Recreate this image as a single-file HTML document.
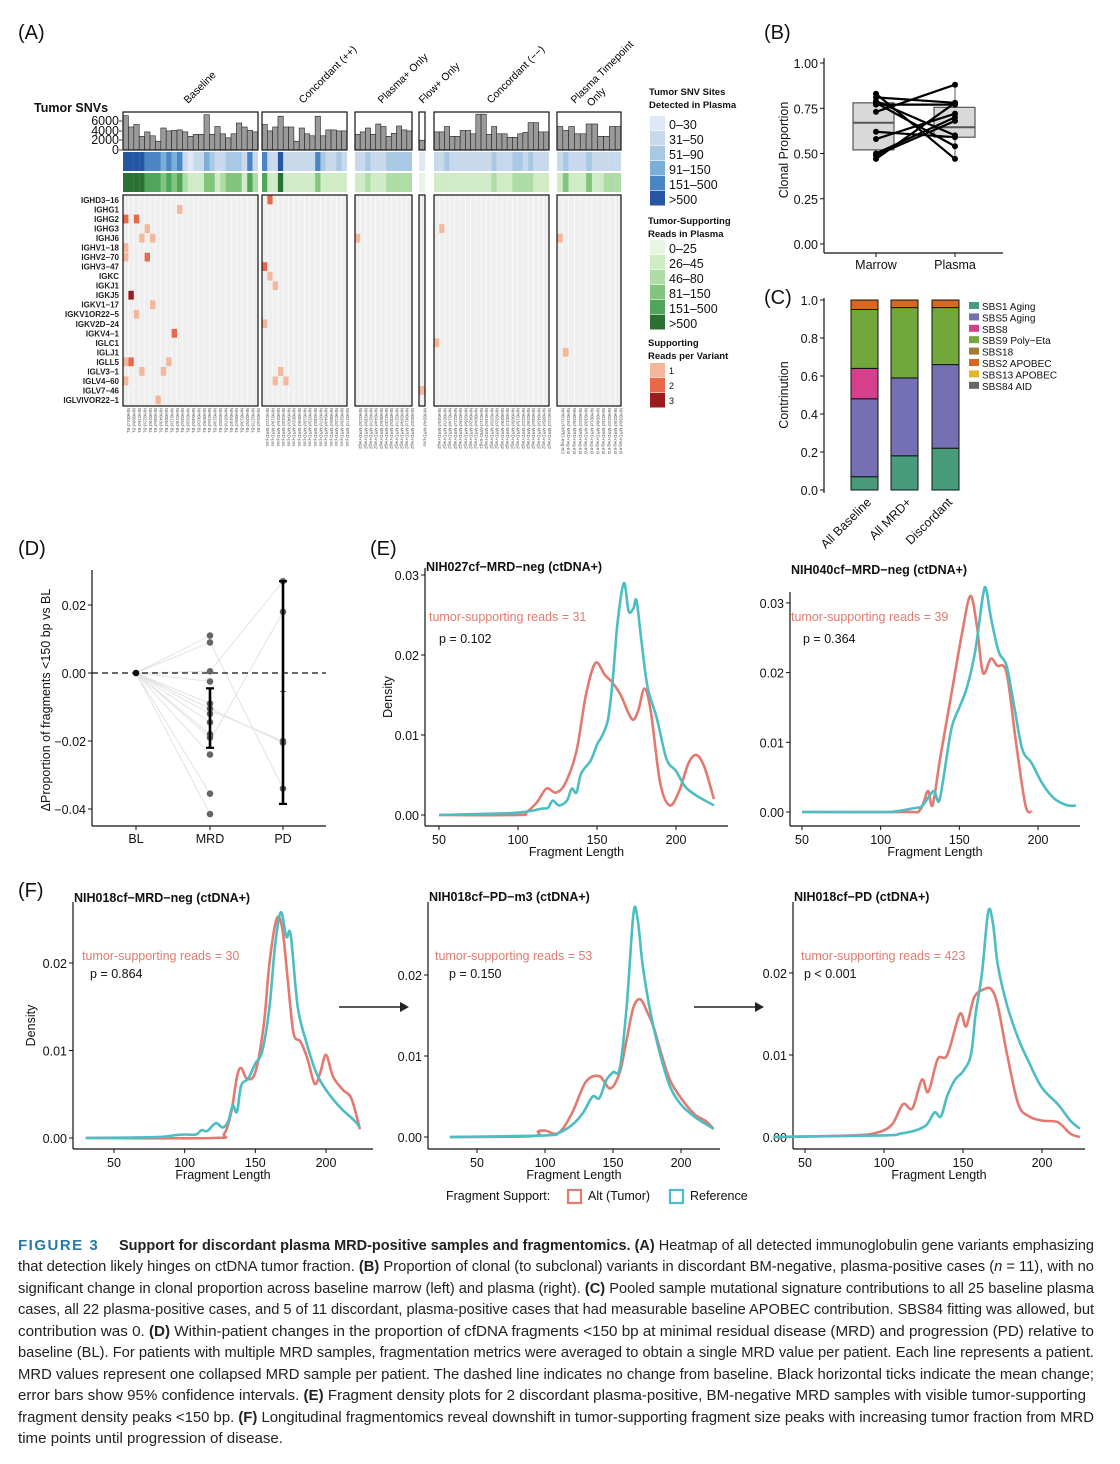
<!DOCTYPE html>
<html><head><meta charset="utf-8">
<style>
html,body{margin:0;padding:0;background:#fff;}
svg{display:block;font-family:"Liberation Sans",Arial,sans-serif;}
</style></head>
<body>
<svg id="s" width="1120" height="1464" viewBox="0 0 1120 1464" xmlns="http://www.w3.org/2000/svg"></svg>
<script>
var S='';
function T(x,y,t,o){o=o||{};var a='<text x="'+x+'" y="'+y+'" font-size="'+(o.fs||13)+'" fill="'+(o.c||'#111')+'"'+(o.a?' text-anchor="'+o.a+'"':'')+(o.w?' font-weight="bold"':'')+(o.tr?' transform="'+o.tr+'"':'')+(o.ex||'')+'>'+t+'</text>';S+=a;}
function R(x,y,w,h,f,st,sw){S+='<rect x="'+x+'" y="'+y+'" width="'+w+'" height="'+h+'" fill="'+f+'"'+(st?' stroke="'+st+'" stroke-width="'+(sw||1)+'"':'')+'/>';}
function L(x1,y1,x2,y2,c,w,ex){S+='<line x1="'+x1+'" y1="'+y1+'" x2="'+x2+'" y2="'+y2+'" stroke="'+(c||'#111')+'" stroke-width="'+(w||1)+'"'+(ex||'')+'/>';}
function C(x,y,r,f){S+='<circle cx="'+x+'" cy="'+y+'" r="'+r+'" fill="'+f+'"/>';}

T(18,39,'(A)',{fs:20});T(764,39,'(B)',{fs:20});T(764,304,'(C)',{fs:20});
T(18,555,'(D)',{fs:20});T(370,555,'(E)',{fs:20});T(18,897,'(F)',{fs:20});

var blocks=[[123,258,25],[262,347,16],[355,412,11],[419,425,1],[434,549,22],[557,621,11]];
var bars=[[7,4.7,5.2,2.8,3.7,2.9,1.8,4.5,3.9,4,4.1,3.7,2.8,3.2,3.2,7.2,3.2,4.8,3.3,2.5,3.3,5.5,4.7,4,3.7],
[5.2,3.9,4.7,6.9,4.7,4.7,1.8,4.5,3.3,2.9,6.9,2.9,4.1,4.1,3.9,3.9],
[3.2,3.7,4.5,3.2,5.3,4.8,2.8,3.4,4.9,4.1,3.9],[2],
[3.7,3.7,4.8,2.8,2.8,4,4,3.3,7.3,7.3,3.2,4.8,3.3,3.3,2.6,2.6,3.3,3.6,5.6,5.6,3.7,3.7],
[4.8,4,4.8,3.3,3.3,5.3,5.3,2.8,2.8,4.8,4.8]];
var blu=[[5,5,5,5,4,4,4,3,4,3,4,1,0,1,1,3,2,1,1,2,2,2,1,4,1],[4,1,1,5,1,1,1,1,1,1,4,2,1,1,2,1],[1,1,2,1,1,1,2,2,2,2,2],[0],
[1,1,2,1,1,1,1,1,1,1,1,2,1,1,1,2,2,1,2,1,1,1],[1,2,1,1,1,2,1,1,1,1,1]];
var grn=[[5,5,5,5,4,4,4,3,4,3,4,2,1,1,1,3,3,1,2,3,3,3,1,4,2],[4,1,1,5,1,1,1,1,1,1,3,1,1,1,1,1],[1,1,2,1,1,1,2,2,2,2,2],[0],
[1,1,1,1,1,1,1,1,1,1,1,2,1,1,1,2,2,2,2,1,1,1],[1,3,1,1,1,3,1,1,2,2,2]];
var BP=['#dfe9f5','#c8d9ec','#a9c8e3','#7bafd8','#4a86c3','#2456a2'];
var GP=['#e8f5e2','#cfecc7','#aedca5','#82c57c','#4ea55b','#2a7136'];
var RP=['#f5b79b','#e8694a','#9b1c1c'];
var sfx=['BL','MRD-pos','MRD-neg2','MRD-pos','MRD-neg2','MRD-neg-m3'];
blocks.forEach(function(b,bi){
  var x0=b[0],x1=b[1],n=b[2],w=(x1-x0)/n;
  for(var i=0;i<n;i++){
    var x=x0+i*w,h=bars[bi][i]*4.9;
    R(x.toFixed(2),(150-h).toFixed(1),w.toFixed(2),h.toFixed(1),'#9a9a9a','#222',0.6);
    R(x.toFixed(2),152,(w+0.1).toFixed(2),19,BP[blu[bi][i]]);
    R(x.toFixed(2),173,(w+0.1).toFixed(2),19,GP[grn[bi][i]]);
    var num=('00'+(1+((i*7+bi*11)%45))).slice(-3);
    T((x+w/2+1.5).toFixed(1),408,'NIH'+num+'cf-'+sfx[bi],{fs:4.4,c:'#555',tr:'rotate(90 '+(x+w/2+1.5).toFixed(1)+' 408)'});
  }
  R(x0,112,x1-x0,38,'none','#111',1.2);
  R(x0,195,x1-x0,211,'#efefef');
  for(var i=1;i<n;i++){var x=x0+i*w;L(x.toFixed(2),195,x.toFixed(2),406,'#fff',0.6);}
});
var rows=['IGHD3−16','IGHG1','IGHG2','IGHG3','IGHJ6','IGHV1−18','IGHV2−70','IGHV3−47','IGKC','IGKJ1','IGKJ5','IGKV1−17','IGKV1OR22−5','IGKV2D−24','IGKV4−1','IGLC1','IGLJ1','IGLL5','IGLV3−1','IGLV4−60','IGLV7−46','IGLVIVOR22−1'];
var cells=[[0,270,1],[1,178,0],[2,125,1],[2,136,1],[3,146,0],[3,443,0],[4,141,0],[4,152,0],[4,359,0],[4,562,0],[5,125,0],[6,125,0],[6,146,1],
[7,265,1],[8,270,0],[9,276,0],[10,130,2],[11,152,0],[12,136,0],[13,265,0],[14,173,1],[15,437,0],[16,568,0],[17,125,0],[17,130,1],[17,167,0],
[18,141,0],[18,162,0],[18,282,0],[19,125,0],[19,276,0],[19,287,0],[20,424,0],[21,157,0]];
var rh=9.52;
rows.forEach(function(r,i){T(119,200+i*rh+3,r,{fs:8,w:1,a:'end',c:'#222'});});
cells.forEach(function(c){
  var b=blocks.filter(function(b){return c[1]>=b[0]-1&&c[1]<=b[1]+1;})[0];
  var w=(b[1]-b[0])/b[2];var k=Math.max(0,Math.min(b[2]-1,Math.floor((c[1]-b[0])/w)));
  R((b[0]+k*w).toFixed(2),(200+c[0]*rh-4.4).toFixed(1),w.toFixed(2),8.8,RP[c[2]]);
});
blocks.forEach(function(b){R(b[0],195,b[1]-b[0],211,'none','#111',1.2);});
T(34,112,'Tumor SNVs',{fs:12.5,w:1});
[['6000',121],['4000',131],['2000',140],['0',150]].forEach(function(t){T(119,t[1]+4,t[0],{fs:12.5,a:'end'});L(119,t[1],122,t[1],'#111',0.8);});
[['Baseline',188],['Concordant (++)',303],['Plasma+ Only',382],['Flow+ Only',423],['Concordant (−−)',491],['Plasma Timepoint',575]].forEach(function(g){
  T(g[1],104,g[0],{fs:10.5,c:'#000',tr:'rotate(-45 '+g[1]+' 104)'});});
T(591,107,'Only',{fs:10.5,c:'#000',tr:'rotate(-45 591 107)'});
T(649,95,'Tumor SNV Sites',{fs:9.5,w:1});T(649,108,'Detected in Plasma',{fs:9.5,w:1});
var bl=['0–30','31–50','51–90','91–150','151–500','&gt;500'];
bl.forEach(function(t,i){R(650,116+i*15,15,14.5,BP[i]);T(669,129+i*15,t,{fs:12.5});});
T(648,224,'Tumor-Supporting',{fs:9.5,w:1});T(648,237,'Reads in Plasma',{fs:9.5,w:1});
var gl=['0–25','26–45','46–80','81–150','151–500','&gt;500'];
gl.forEach(function(t,i){R(650,240+i*15,15,14.5,GP[i]);T(669,253+i*15,t,{fs:12.5});});
T(648,346,'Supporting',{fs:9.5,w:1});T(648,359,'Reads per Variant',{fs:9.5,w:1});
['1','2','3'].forEach(function(t,i){R(650,363+i*15,15,14.5,RP[i]);T(669,374+i*15,t,{fs:9});});

function yb(v){return 244-v*181;}
L(824,58,824,253,'#111',1.2);L(824,253,1003,253,'#111',1.2);
[1,0.75,0.5,0.25,0].forEach(function(v){var y=yb(v);L(820,y,824,y);T(818,y+5,v.toFixed(2),{fs:12.5,a:'end'});});
T(788,150,'Clonal Proportion',{fs:12.5,a:'middle',tr:'rotate(-90 788 150)'});
L(876,253,876,257);L(955,253,955,257);
T(876,269,'Marrow',{fs:12.5,a:'middle'});T(955,269,'Plasma',{fs:12.5,a:'middle'});
L(876,yb(0.78),876,yb(0.52),'#555',1);L(955,yb(0.88),955,yb(0.47),'#555',1);
R(853,yb(0.78),41,yb(0.52)-yb(0.78),'#d9d9d9','#555',1.2);L(853,yb(0.67),894,yb(0.67),'#555',2);
R(934,yb(0.755),41,yb(0.59)-yb(0.755),'#d9d9d9','#555',1.2);L(934,yb(0.645),975,yb(0.645),'#555',2);
var pr=[[0.83,0.47],[0.81,0.78],[0.78,0.54],[0.77,0.77],[0.79,0.6],[0.73,0.88],[0.62,0.59],[0.58,0.72],[0.50,0.70],[0.49,0.68],[0.47,0.78]];
pr.forEach(function(p){L(876,yb(p[0]),955,yb(p[1]),'#000',2.2);C(876,yb(p[0]),3,'#000');C(955,yb(p[1]),3,'#000');});

function yc(v){return 490-v*190;}
L(824,298,824,493,'#111',1.2);
[1,0.8,0.6,0.4,0.2,0].forEach(function(v){var y=yc(v);L(820,y,824,y);T(818,y+5,v.toFixed(1),{fs:12.5,a:'end'});});
T(788,395,'Contrinution',{fs:12.5,a:'middle',tr:'rotate(-90 788 395)'});
var SC=['#489c7c','#7570b3','#d63f8a','#72a83b','#a07d30','#d8671f','#e3b52c','#666666'];
var stk=[[851,[[0,0.07,0],[0.07,0.48,1],[0.48,0.64,2],[0.64,0.95,3],[0.95,1,5]]],[891,[[0,0.18,0],[0.18,0.59,1],[0.59,0.96,3],[0.96,1,5]]],[932,[[0,0.22,0],[0.22,0.66,1],[0.66,0.96,3],[0.96,1,5]]]];
stk.forEach(function(s){s[1].forEach(function(g){R(s[0],yc(g[1]),27,yc(g[0])-yc(g[1]),SC[g[2]],'#111',1);});});
[['All Baseline',872],['All MRD+',912],['Discordant',953]].forEach(function(l){T(l[1],503,l[0],{fs:12.5,a:'end',tr:'rotate(-45 '+l[1]+' 503)'});});
var sl=['SBS1 Aging','SBS5 Aging','SBS8','SBS9 Poly−Eta','SBS18','SBS2 APOBEC','SBS13 APOBEC','SBS84 AID'];
sl.forEach(function(t,i){var y=306+i*11.4;R(969,y-4,10,7,SC[i]);T(982,y+4,t,{fs:10});});

function yd(v){return 673-v*3400;}
L(92,570,92,826,'#111',1.2);L(92,826,326,826,'#111',1.2);
[[0.02,'0.02'],[0,'0.00'],[-0.02,'−0.02'],[-0.04,'−0.04']].forEach(function(t){var y=yd(t[0]);L(88,y,92,y);T(86,y+5,t[1],{fs:12.5,a:'end'});});
[['BL',136],['MRD',210],['PD',283]].forEach(function(t){L(t[1],826,t[1],830);T(t[1],843,t[0],{fs:12.5,a:'middle'});});
T(50,700,'ΔProportion of fragments &lt;150 bp vs BL',{fs:12.5,a:'middle',tr:'rotate(-90 50 700)'});
var mrd=[0.011,0.009,0.0005,-0.0025,-0.009,-0.0105,-0.012,-0.0145,-0.018,-0.019,-0.024,-0.0355,-0.0415];
mrd.forEach(function(v){L(136,673,210,yd(v),'#e3e3e3',1);});
[[0.0005,0.027],[-0.02,0.018],[0.009,-0.034],[-0.011,-0.02],[-0.0105,-0.0205]].forEach(function(p){L(210,yd(p[0]),283,yd(p[1]),'#e3e3e3',1);});
L(92,673,326,673,'#111',1.3,' stroke-dasharray="6,4"');
mrd.forEach(function(v){C(210,yd(v),3.3,'#666');});
[0.027,0.018,-0.02,-0.0205,-0.034].forEach(function(v){C(283,yd(v),3.3,'#666');});
C(136,673,3.3,'#111');
L(210,yd(-0.0045),210,yd(-0.022),'#000',2.6);L(206,yd(-0.0045),214,yd(-0.0045),'#000',2.2);L(206,yd(-0.022),214,yd(-0.022),'#000',2.2);
L(283,yd(0.027),283,yd(-0.0385),'#000',2.6);L(279,yd(0.027),287,yd(0.027),'#000',2.2);L(279,yd(-0.0385),287,yd(-0.0385),'#000',2.2);
L(280,yd(-0.0055),286,yd(-0.0055),'#000',0.6);

var RED='#e27a70',TEAL='#4cbdc2';
function path(pts,fx,fy){
  var p=pts.map(function(q){return [fx(q[0]),fy(q[1])];});
  var d='M'+p[0][0].toFixed(1)+','+p[0][1].toFixed(1);
  for(var i=0;i<p.length-1;i++){
    var p0=p[Math.max(0,i-1)],p1=p[i],p2=p[i+1],p3=p[Math.min(p.length-1,i+2)];
    var c1x=p1[0]+(p2[0]-p0[0])/6,c1y=p1[1]+(p2[1]-p0[1])/6,c2x=p2[0]-(p3[0]-p1[0])/6,c2y=p2[1]-(p3[1]-p1[1])/6;
    d+=' C'+c1x.toFixed(1)+','+c1y.toFixed(1)+' '+c2x.toFixed(1)+','+c2y.toFixed(1)+' '+p2[0].toFixed(1)+','+p2[1].toFixed(1);
  }
  return d;
}
function dens(o){
  var fx=function(v){return o.x50+(v-50)*(o.x200-o.x50)/150;};
  var fy=function(v){return o.y0-v*o.per*100;};
  L(o.ax,o.top,o.ax,o.bot,'#111',1.2);L(o.ax,o.bot,o.xend,o.bot,'#111',1.2);
  o.yt.forEach(function(v){var y=fy(v);L(o.ax-4,y,o.ax,y);T(o.ax-6,y+5,v.toFixed(2),{fs:12.5,a:'end'});});
  [50,100,150,200].forEach(function(v){var x=fx(v);L(x,o.bot,x,o.bot+4);T(x,o.bot+18,v,{fs:12.5,a:'middle'});});
  T((o.ax+o.xend)/2,o.bot+30,'Fragment Length',{fs:12.5,a:'middle'});
  if(o.dl)T(o.dl,(o.top+o.bot)/2,'Density',{fs:12.5,a:'middle',tr:'rotate(-90 '+o.dl+' '+(o.top+o.bot)/2+')'});
  T(o.ax+1,o.ty,o.title,{fs:12.5,w:1});
  T(o.ann[0],o.ann[1],'tumor-supporting reads = '+o.n,{fs:12.5,c:RED});
  T(o.pp[0],o.pp[1],o.p,{fs:12.5});
  S+='<path d="'+path(o.alt,fx,fy)+'" fill="none" stroke="'+RED+'" stroke-width="2.6" stroke-linejoin="round"/>';
  S+='<path d="'+path(o.ref,fx,fy)+'" fill="none" stroke="'+TEAL+'" stroke-width="2.6" stroke-linejoin="round"/>';
}
dens({ax:425,top:568,bot:826,xend:728,y0:815,per:80,x50:439,x200:676,yt:[0,0.01,0.02,0.03],dl:392,ty:571,title:'NIH027cf−MRD−neg (ctDNA+)',ann:[429,621],n:31,pp:[439,643],p:'p = 0.102',
 alt:[[50,0],[100,0],[105,0.0003],[112,0.0016],[118,0.0033],[124,0.0028],[130,0.004],[137,0.008],[143,0.015],[149,0.019],[155,0.0175],[160,0.0165],[165,0.015],[172,0.012],[176,0.013],[180,0.0158],[184,0.013],[190,0.004],[196,0.0012],[202,0.003],[208,0.0065],[213,0.0075],[218,0.006],[224,0.002]],
 ref:[[50,0],[90,0.0002],[100,0.0003],[108,0.0005],[115,0.0008],[119,0.0009],[122,0.0018],[126,0.0012],[131,0.0018],[134,0.0033],[137,0.0028],[140,0.0052],[146,0.0068],[150,0.0088],[153,0.0098],[157,0.012],[160,0.017],[163,0.024],[167,0.029],[170,0.0255],[173,0.0258],[175,0.0268],[178,0.022],[182,0.016],[188,0.012],[194,0.007],[200,0.0055],[206,0.0035],[214,0.0023],[224,0.0012]]});
dens({ax:790,top:592,bot:826,xend:1080,y0:812,per:69.7,x50:802,x200:1038,yt:[0,0.01,0.02,0.03],ty:574,title:'NIH040cf−MRD−neg (ctDNA+)',ann:[791,621],n:39,pp:[803,643],p:'p = 0.364',
 alt:[[50,0],[115,0],[125,0.0003],[130,0.003],[133,0.001],[138,0.008],[145,0.017],[152,0.026],[157,0.031],[161,0.027],[165,0.02],[170,0.022],[174,0.021],[180,0.02],[186,0.01],[192,0.001],[196,0]],
 ref:[[50,0],[100,0],[110,0.0001],[120,0.0005],[126,0.0008],[130,0.002],[134,0.003],[137,0.0015],[140,0.005],[145,0.012],[150,0.015],[155,0.018],[160,0.023],[165,0.031],[167,0.032],[170,0.028],[175,0.023],[180,0.021],[185,0.015],[190,0.009],[196,0.007],[203,0.004],[210,0.002],[218,0.001],[224,0.0009]]});
dens({ax:73,top:902,bot:1149,xend:373,y0:1138,per:87.5,x50:114,x200:326,yt:[0,0.01,0.02],dl:35,ty:902,title:'NIH018cf−MRD−neg (ctDNA+)',ann:[82,960],n:30,pp:[90,978],p:'p = 0.864',
 alt:[[30,0],[120,0],[128,0.0005],[133,0.003],[137,0.007],[140,0.008],[144,0.0068],[150,0.0075],[156,0.013],[160,0.02],[165,0.025],[169,0.024],[173,0.018],[177,0.012],[182,0.011],[187,0.009],[192,0.0062],[196,0.0075],[200,0.0095],[205,0.007],[212,0.0055],[218,0.0045],[224,0.001]],
 ref:[[30,0],[80,0.0001],[92,0.0003],[100,0.0004],[108,0.0004],[112,0.0009],[116,0.0008],[122,0.0017],[127,0.0012],[131,0.002],[134,0.0037],[137,0.003],[140,0.006],[145,0.0068],[150,0.0085],[155,0.01],[160,0.015],[164,0.022],[168,0.0258],[172,0.023],[175,0.0232],[180,0.015],[186,0.011],[193,0.0075],[200,0.0055],[210,0.0035],[220,0.002],[224,0.0012]]});
dens({ax:428,top:902,bot:1149,xend:720,y0:1137,per:81,x50:477,x200:681,yt:[0,0.01,0.02],ty:901,title:'NIH018cf−PD−m3 (ctDNA+)',ann:[435,960],n:53,pp:[449,978],p:'p = 0.150',
 alt:[[30,0],[90,0.0001],[95,0.0007],[100,0.0008],[110,0.0005],[120,0.003],[130,0.0068],[140,0.0075],[148,0.006],[155,0.008],[160,0.012],[165,0.016],[170,0.017],[175,0.0155],[180,0.0135],[186,0.01],[192,0.007],[200,0.0048],[210,0.0028],[218,0.002],[224,0.001]],
 ref:[[30,0],[100,0.0002],[110,0.0005],[120,0.0015],[128,0.003],[135,0.005],[140,0.0048],[145,0.007],[150,0.008],[155,0.0085],[160,0.016],[165,0.0275],[168,0.027],[172,0.021],[178,0.015],[185,0.01],[192,0.0062],[200,0.004],[210,0.0025],[224,0.001]]});
dens({ax:793,top:902,bot:1149,xend:1085,y0:1137,per:82,x50:805,x200:1042,yt:[0,0.01,0.02],ty:901,title:'NIH018cf−PD (ctDNA+)',ann:[801,960],n:423,pp:[804,978],p:'p &lt; 0.001',
 alt:[[30,0],[80,0.0002],[95,0.0005],[105,0.0015],[112,0.004],[118,0.0035],[124,0.007],[128,0.0055],[134,0.0095],[140,0.01],[148,0.015],[152,0.0135],[157,0.017],[163,0.018],[168,0.018],[172,0.016],[178,0.01],[185,0.004],[192,0.0025],[200,0.002],[210,0.0018],[218,0.0004],[224,0]],
 ref:[[30,0],[100,0.0002],[110,0.0004],[120,0.0008],[127,0.0015],[132,0.003],[136,0.0025],[140,0.005],[145,0.007],[150,0.008],[155,0.01],[158,0.015],[162,0.02],[166,0.0275],[169,0.026],[172,0.021],[178,0.016],[185,0.012],[192,0.009],[200,0.006],[210,0.004],[218,0.002],[224,0.001]]});
[[339,403],[694,758]].forEach(function(a){L(a[0],1007,a[1],1007,'#222',1.6);S+='<polygon points="'+(a[1]+6)+',1007 '+(a[1]-3)+',1002 '+(a[1]-3)+',1012" fill="#222"/>';});
T(446,1200,'Fragment Support:',{fs:12.5});
R(568,1190,13,13,'none',RED,2.2);T(588,1200,'Alt (Tumor)',{fs:12.5});
R(670,1190,13,13,'none',TEAL,2.2);T(690,1200,'Reference',{fs:12.5});

function CL(y,x,len,parts){
  var s='<text x="'+x+'" y="'+y+'" font-size="14.5" fill="#222" textLength="'+len+'" lengthAdjust="spacingAndGlyphs">';
  parts.forEach(function(p){s+=(p[1]?'<tspan font-weight="bold">':'<tspan>')+p[0]+'</tspan>';});
  S+=s+'</text>';
}
S+='<text x="18" y="1250" font-size="15" font-weight="bold" fill="#2a78a5" letter-spacing="1.5">FIGURE 3</text>';
CL(1250,119,975,[['Support for discordant plasma MRD-positive samples and fragmentomics. (A)',1],[' Heatmap of all detected immunoglobulin gene variants emphasizing']]);
CL(1271,18,1076,[['that detection likely hinges on ctDNA tumor fraction. '],['(B)',1],[' Proportion of clonal (to subclonal) variants in discordant BM-negative, plasma-positive cases ('],['<tspan font-style="italic">n</tspan> = 11), with no']]);
CL(1293,18,1076,[['significant change in clonal proportion across baseline marrow (left) and plasma (right). '],['(C)',1],[' Pooled sample mutational signature contributions to all 25 baseline plasma']]);
CL(1314,18,1076,[['cases, all 22 plasma-positive cases, and 5 of 11 discordant, plasma-positive cases that had measurable baseline APOBEC contribution. SBS84 fitting was allowed, but']]);
CL(1336,18,1076,[['contribution was 0. '],['(D)',1],[' Within-patient changes in the proportion of cfDNA fragments &lt;150 bp at minimal residual disease (MRD) and progression (PD) relative to']]);
CL(1357,18,1076,[['baseline (BL). For patients with multiple MRD samples, fragmentation metrics were averaged to obtain a single MRD value per patient. Each line represents a patient.']]);
CL(1379,18,1076,[['MRD values represent one collapsed MRD sample per patient. The dashed line indicates no change from baseline. Black horizontal ticks indicate the mean change;']]);
CL(1400,18,1068,[['error bars show 95% confidence intervals. '],['(E)',1],[' Fragment density plots for 2 discordant plasma-positive, BM-negative MRD samples with visible tumor-supporting']]);
CL(1422,18,1076,[['fragment density peaks &lt;150 bp. '],['(F)',1],[' Longitudinal fragmentomics reveal downshift in tumor-supporting fragment size peaks with increasing tumor fraction from MRD']]);
CL(1443,18,265,[['time points until progression of disease.']]);

document.getElementById('s').innerHTML=S;
</script>
</body></html>
